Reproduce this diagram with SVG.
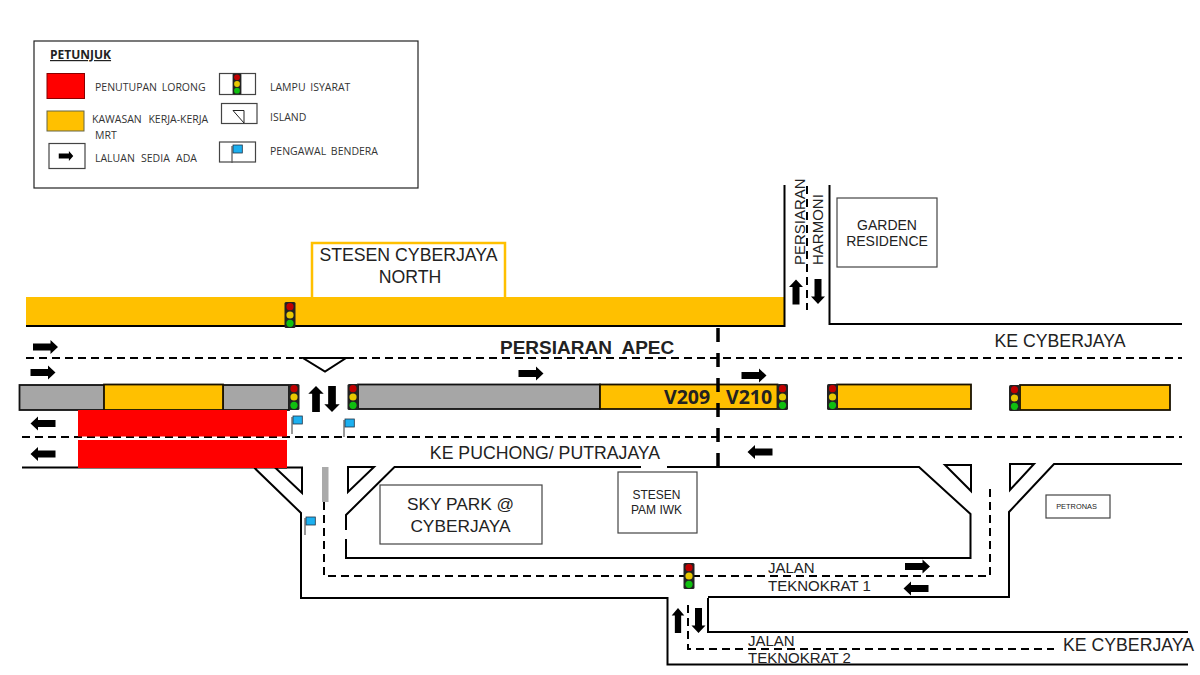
<svg xmlns="http://www.w3.org/2000/svg" width="1200" height="675" viewBox="0 0 1200 675">
<style>
text{font-family:"Liberation Sans",Arial,sans-serif;fill:#222}
.c{font-family:"Open Sans","Liberation Sans",sans-serif;font-size:10.500px;fill:#333;word-spacing:2px}
.l{font-size:17.700px;text-anchor:middle}
.m{font-size:15px}
.r{fill:none;stroke:#000;stroke-width:2}
.d{fill:none;stroke:#000;stroke-width:2;stroke-dasharray:8 5}
.t{fill:none;stroke:#000;stroke-width:3.500;stroke-dasharray:14 11}
.box{fill:#fff;stroke:#444;stroke-width:1.200}
.y{fill:#ffc000;stroke:#1a1200;stroke-width:1.800}
.g{fill:#a6a6a6;stroke:#111;stroke-width:1.800}
</style>
<defs>
<path id="ar" d="M-12.500,-3.500 H5 V-7 L12.500,0 L5,7 V3.500 H-12.500 Z" fill="#000"/>
<g id="tl"><rect x="-5.500" y="-13" width="11" height="26" rx="1.500" fill="#222"/><circle cy="-8.300" r="3.600" fill="#c00000"/><circle cy="0" r="3.600" fill="#e8c800"/><circle cy="8.300" r="3.600" fill="#10c010"/></g>
<g id="fl"><path d="M-1,18 V1" stroke="#555" stroke-width="1.200"/><rect x="0" y="0" width="9.300" height="8" fill="#1cb0f0" stroke="#234" stroke-width="0.800"/></g>
</defs>
<rect width="1200" height="675" fill="#fff"/>
<g id="legend">
<rect x="34" y="41" width="384" height="147" fill="#fff" stroke="#222" stroke-width="1.200"/>
<text x="50" y="59" font-size="12" font-weight="bold" style="font-family:'Open Sans'" text-decoration="underline">PETUNJUK</text>
<rect x="47" y="73.500" width="37.500" height="25" fill="#f00" stroke="#800" stroke-width="1"/>
<rect x="47" y="111" width="37" height="20" fill="#ffc000" stroke="#664" stroke-width="1"/>
<rect x="49" y="143.500" width="36" height="25" class="box"/>
<use href="#ar" transform="translate(66,156) scale(.58,.72)"/>
<rect x="219.500" y="73.500" width="36" height="21" class="box"/>
<use href="#tl" transform="translate(237,84) scale(.8)"/>
<rect x="221.500" y="103.500" width="35.500" height="20" class="box"/>
<path d="M233,110.500 H244 V123 Z" fill="none" stroke="#222"/>
<rect x="219.500" y="142" width="36" height="20" class="box"/>
<use href="#fl" transform="translate(233,145)"/>
<text class="c" x="95" y="91">PENUTUPAN LORONG</text>
<text class="c" x="92" y="123" style="word-spacing:4px">KAWASAN KERJA-KERJA</text>
<text class="c" x="95" y="139">MRT</text>
<text class="c" x="95" y="162" style="word-spacing:3.500px">LALUAN SEDIA ADA</text>
<text class="c" x="270" y="91">LAMPU ISYARAT</text>
<text class="c" x="270" y="121">ISLAND</text>
<text class="c" x="270" y="155">PENGAWAL BENDERA</text>
</g>
<g id="work-areas">
<rect x="26" y="297" width="758" height="29" fill="#ffc000"/>
<rect x="19.500" y="385" width="85" height="25" class="g"/>
<rect x="223" y="385" width="66" height="25" class="g"/>
<rect x="104" y="384.500" width="119" height="25.500" class="y"/>
<rect x="358" y="384.500" width="242" height="24.500" class="g"/>
<rect x="600" y="384.500" width="177.500" height="24.500" class="y"/>
<rect x="837" y="384.500" width="134" height="24.500" class="y"/>
<rect x="1020" y="385" width="150" height="25" class="y"/>
<rect x="322" y="467" width="6.500" height="35" fill="#aaa"/>
</g>
<g id="connectors">
<path class="r" d="M26,326 H784.500 V185"/>
<path class="r" d="M829.500,185 V324 H1182"/>
<path class="d" d="M807,186 V310"/>
<path class="d" d="M26,358 H302 M346,358 H1182"/>
<path class="d" d="M22,437 H1182"/>
<path class="r" d="M22,467.500 H287 M254,467.500 L301,513 V598 H667.500 V664.500 H1188"/>
<path class="r" d="M708,598 V632 H1188"/>
<path class="r" d="M708,597 H1009 V512 L1054,464 H1182"/>
<path class="r" d="M346,530 V515 L394.500,467 H641 M667,467 H919 L970.500,514 V558 H346 V539"/>
<path class="r" d="M275,467.500 H302 V493 Z M348,467 H374 L348,492 Z M945,465 H971 V491 Z M1010,464 H1034 L1010,490 Z"/>
<path class="d" d="M324,502 V576 H990 V488"/>
<path class="d" d="M688,605 V649 H1054"/>
<path class="r" d="M303,358 H346 L325,371.500 Z" stroke-width="1.500"/>
<rect x="78" y="410" width="209" height="26.500" fill="#f00"/>
<rect x="78" y="440" width="209" height="28" fill="#f00"/>
<path class="t" d="M718,328 V467"/>
</g>
<g id="arrows">
<use href="#ar" x="45.500" y="347"/><use href="#ar" x="43" y="372.500"/><use href="#ar" x="531" y="373.500"/><use href="#ar" x="754" y="375.500"/>
<use href="#ar" transform="translate(43,423.500) rotate(180)"/><use href="#ar" transform="translate(43,454) rotate(180)"/><use href="#ar" transform="translate(760,452) rotate(180)"/>
<use href="#ar" x="917.500" y="566.500"/><use href="#ar" transform="translate(916,588.500) rotate(180)"/>
<use href="#ar" transform="translate(316,399) rotate(-90) scale(1.040,1.100)"/><use href="#ar" transform="translate(332,399) rotate(90) scale(1.040,1.100)"/>
<use href="#ar" transform="translate(796,292) rotate(-90)"/><use href="#ar" transform="translate(818,291.500) rotate(90)"/>
<use href="#ar" transform="translate(678,620.500) rotate(-90) scale(1,.9)"/><use href="#ar" transform="translate(698.500,620.500) rotate(90)"/>
</g>
<g id="signals">
<use href="#tl" x="290" y="315"/><use href="#tl" x="294" y="397"/><use href="#tl" x="353" y="397"/><use href="#tl" x="782.500" y="397"/><use href="#tl" x="832.500" y="397"/><use href="#tl" x="1014.500" y="398"/><use href="#tl" x="689" y="576"/>
<use href="#fl" x="293" y="416"/><use href="#fl" x="345" y="419"/><use href="#fl" x="306" y="517"/>
</g>
<g id="stesen-north"><path d="M312,297 V243 H505 V297" fill="#fff" stroke="#ffc000" stroke-width="2.500"/><text class="l" x="408.500" y="261">STESEN CYBERJAYA</text><text class="l" x="410" y="283">NORTH</text></g>
<g id="garden"><rect x="837" y="198" width="100" height="69" class="box"/><text x="887" y="230" font-size="14" text-anchor="middle">GARDEN</text><text x="887" y="246" font-size="14" text-anchor="middle">RESIDENCE</text></g>
<g id="skypark"><rect x="380" y="485" width="162" height="59" class="box"/><text x="460.500" y="510" font-size="17.300" text-anchor="middle">SKY PARK @</text><text x="460.500" y="532" font-size="17.300" text-anchor="middle">CYBERJAYA</text></g>
<g id="pam"><rect x="618" y="472" width="79" height="61" class="box"/><text x="656.500" y="499" font-size="12" text-anchor="middle">STESEN</text><text x="656.500" y="514" font-size="12" text-anchor="middle">PAM IWK</text></g>
<g id="petronas"><rect x="1046" y="495" width="64" height="23" class="box"/><text x="1076.500" y="509" font-size="7.400" text-anchor="middle">PETRONAS</text></g>
<g id="labels">
<text x="500" y="354" font-size="19" font-weight="bold" word-spacing="5">PERSIARAN APEC</text>
<text x="664" y="404" font-size="19.500" font-weight="bold" style="font-family:'Open Sans'">V209</text>
<text x="726" y="404" font-size="19.500" font-weight="bold" style="font-family:'Open Sans'">V210</text>
<text class="l" x="1060" y="347">KE CYBERJAYA</text>
<text class="l" x="545" y="459">KE PUCHONG/ PUTRAJAYA</text>
<text class="l" x="1128.500" y="651">KE CYBERJAYA</text>
<text class="m" x="768" y="573">JALAN</text><text class="m" x="768" y="591">TEKNOKRAT 1</text>
<text class="m" x="748" y="646">JALAN</text><text class="m" x="748" y="663">TEKNOKRAT 2</text>
<text class="m" transform="translate(805,265) rotate(-90)">PERSIARAN</text>
<text class="m" transform="translate(823,265) rotate(-90)">HARMONI</text>
</g>
</svg>
